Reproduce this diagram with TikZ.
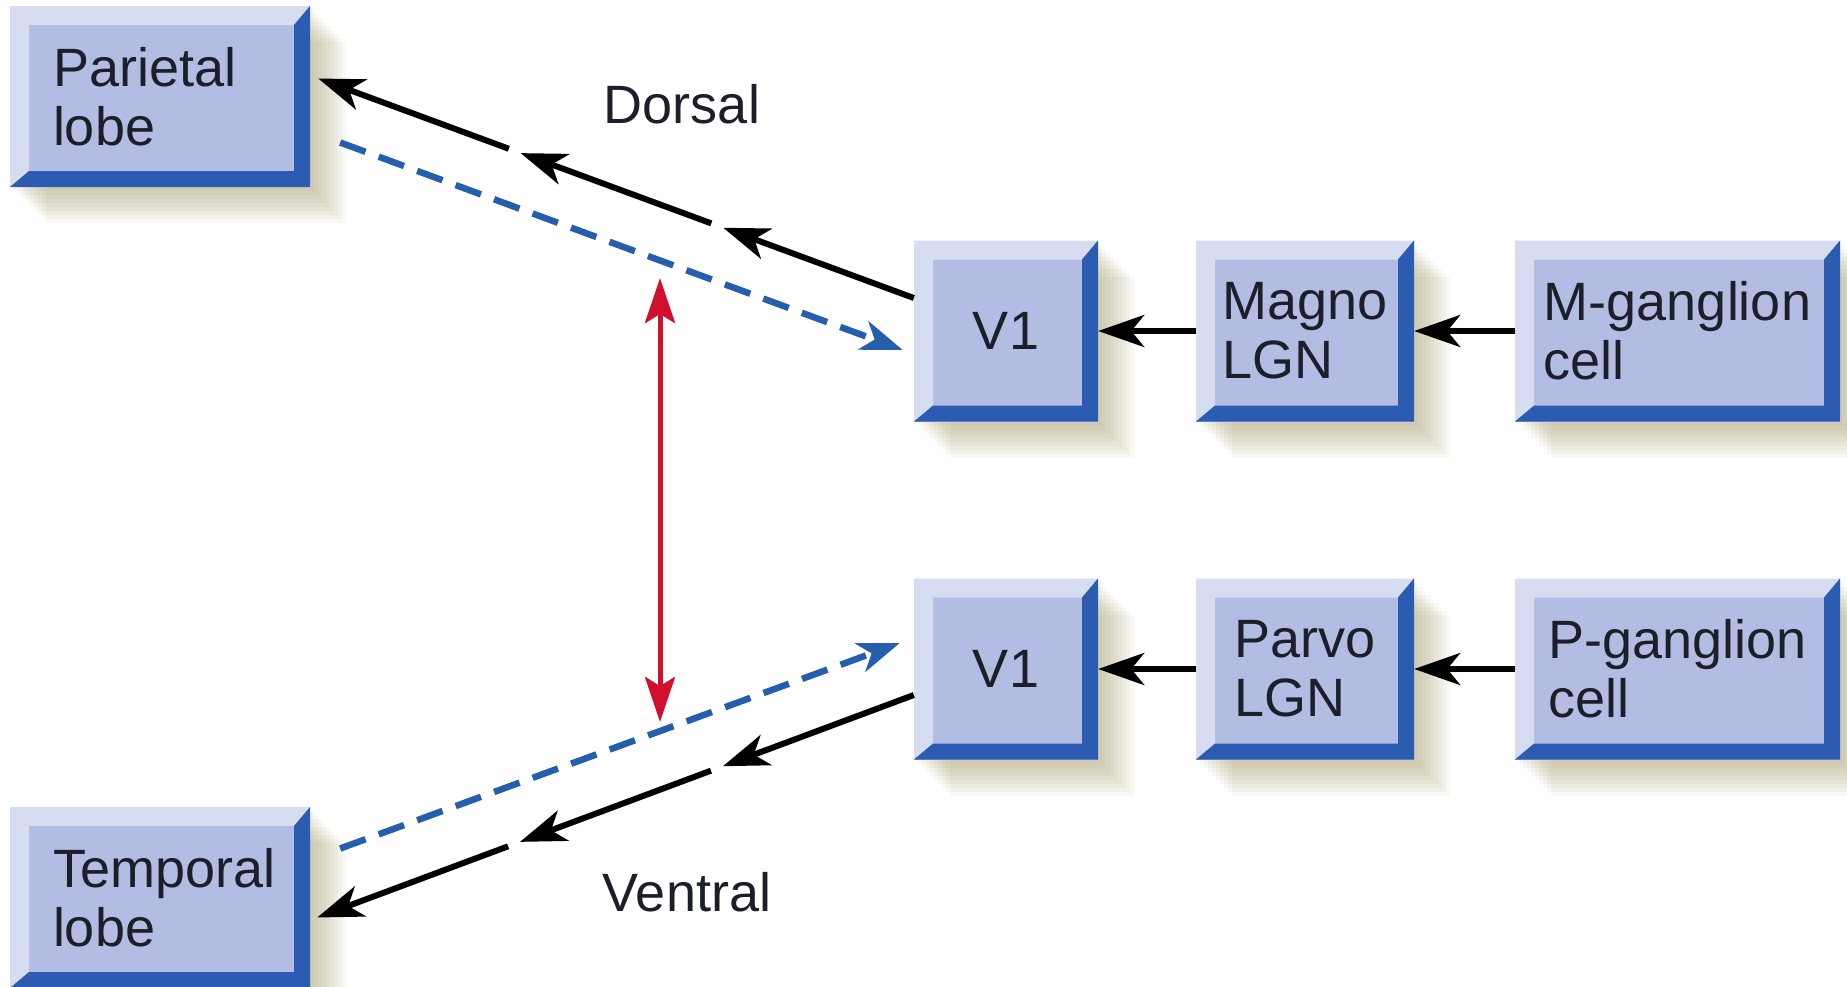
\documentclass[tikz,border=0pt]{standalone}
\usepackage{fontspec}
\setmainfont{Liberation Sans}
\usetikzlibrary{arrows.meta,calc,shadows}
\definecolor{face}{RGB}{179,188,227}
\definecolor{lite}{RGB}{214,221,241}
\definecolor{dark}{RGB}{44,92,178}
\definecolor{shc}{RGB}{140,128,70}
\definecolor{bluel}{RGB}{36,94,172}
\definecolor{redl}{RGB}{208,16,46}
\definecolor{txt}{RGB}{28,30,42}
\newcommand\boxfont{\fontsize{54pt}{59pt}\selectfont}
\begin{document}
\begin{tikzpicture}[x=1pt,y=-1pt,
  shd/.style={general shadow={fill=shc,opacity=0.06,shadow xshift=#1pt,shadow yshift=-#1pt}},
  bbox/.style={rectangle, fill=face, inner sep=0pt, text=txt, font=\boxfont, align=left,
     shd=4,shd=8,shd=12,shd=16,shd=20,shd=24,shd=28,shd=32,shd=36,
     path picture={
       \fill[lite] (path picture bounding box.north west) -- (path picture bounding box.north east)
         -- ($(path picture bounding box.north east)+(-16,19)$)
         -- ($(path picture bounding box.north west)+(19,19)$)
         -- ($(path picture bounding box.south west)+(19,-16)$)
         -- (path picture bounding box.south west) -- cycle;
       \fill[dark] (path picture bounding box.north east) -- (path picture bounding box.south east)
         -- (path picture bounding box.south west)
         -- ($(path picture bounding box.south west)+(19,-16)$)
         -- ($(path picture bounding box.south east)+(-16,-16)$)
         -- ($(path picture bounding box.north east)+(-16,19)$) -- cycle;
     }},
  blk/.style={draw=black, line width=6pt, -{Stealth[length=46pt,width=32pt,inset=13pt]}},
  bl/.style={draw=bluel, line width=6.5pt, dash pattern=on 27pt off 14pt,
     -{Stealth[length=42pt,width=30pt,inset=12pt]}},
  rd/.style={draw=redl, line width=5pt,
     {Stealth[length=45pt,width=30pt,inset=9pt]}-{Stealth[length=45pt,width=30pt,inset=9pt]}},
  lbl/.style={text=txt, font=\boxfont, inner sep=0pt},
]
\useasboundingbox (0,0) rectangle (1847,986);

% boxes
\node[bbox, minimum width=300pt, minimum height=181pt, text width=214pt] (par) at (160,96.5) {Parietal\\lobe};
\node[bbox, minimum width=300pt, minimum height=181pt, text width=214pt] (tem) at (160,897.5) {Temporal\\lobe};
\node[bbox, minimum width=184pt, minimum height=181pt, align=center] (v1t) at (1006,331) {V1};
\node[bbox, minimum width=218pt, minimum height=181pt] (mag) at (1305,331) {Magno\\LGN};
\node[bbox, minimum width=325pt, minimum height=181pt] (mgc) at (1677.5,331) {M-ganglion\\cell};
\node[bbox, minimum width=184pt, minimum height=181pt, align=center] (v1b) at (1006,669) {V1};
\node[bbox, minimum width=218pt, minimum height=181pt] (pvl) at (1305,669) {Parvo\\LGN};
\node[bbox, minimum width=325pt, minimum height=181pt] (pgc) at (1677.5,669) {P-ganglion\\cell};

% labels
\node[lbl] (dors) at (682,104) {Dorsal};
\node[lbl] (vent) at (687,892) {Ventral};

% horizontal arrows
\draw[blk] (mag.west) -- (v1t.east);
\draw[blk] (mgc.west) -- (mag.east);
\draw[blk] (pvl.west) -- (v1b.east);
\draw[blk] (pgc.west) -- (pvl.east);

% dorsal stream
\coordinate (ds) at ($(v1t.west)+(0,-33)$);
\coordinate (de) at ($(par.east)+(8,-18)$);
\draw[blk] (ds) -- ($(ds)!0.32!(de)$);
\draw[blk] ($(ds)!0.34!(de)$) -- ($(ds)!0.66!(de)$);
\draw[blk] ($(ds)!0.68!(de)$) -- (de);
\draw[bl] ($(par.east)+(30,46)$) -- ($(v1t.west)+(-11,19)$);

% ventral stream
\coordinate (vs) at ($(v1b.west)+(0,26)$);
\coordinate (ve) at ($(tem.east)+(7,20)$);
\draw[blk] (vs) -- ($(vs)!0.32!(ve)$);
\draw[blk] ($(vs)!0.34!(ve)$) -- ($(vs)!0.66!(ve)$);
\draw[blk] ($(vs)!0.68!(ve)$) -- (ve);
\draw[bl] ($(tem.east)+(30,-49)$) -- ($(v1b.west)+(-14,-26)$);

% red double arrow
\coordinate (r1) at (660,278);
\coordinate (r2) at (660,722);
\draw[rd] (r1) -- (r2);
\end{tikzpicture}
\end{document}
